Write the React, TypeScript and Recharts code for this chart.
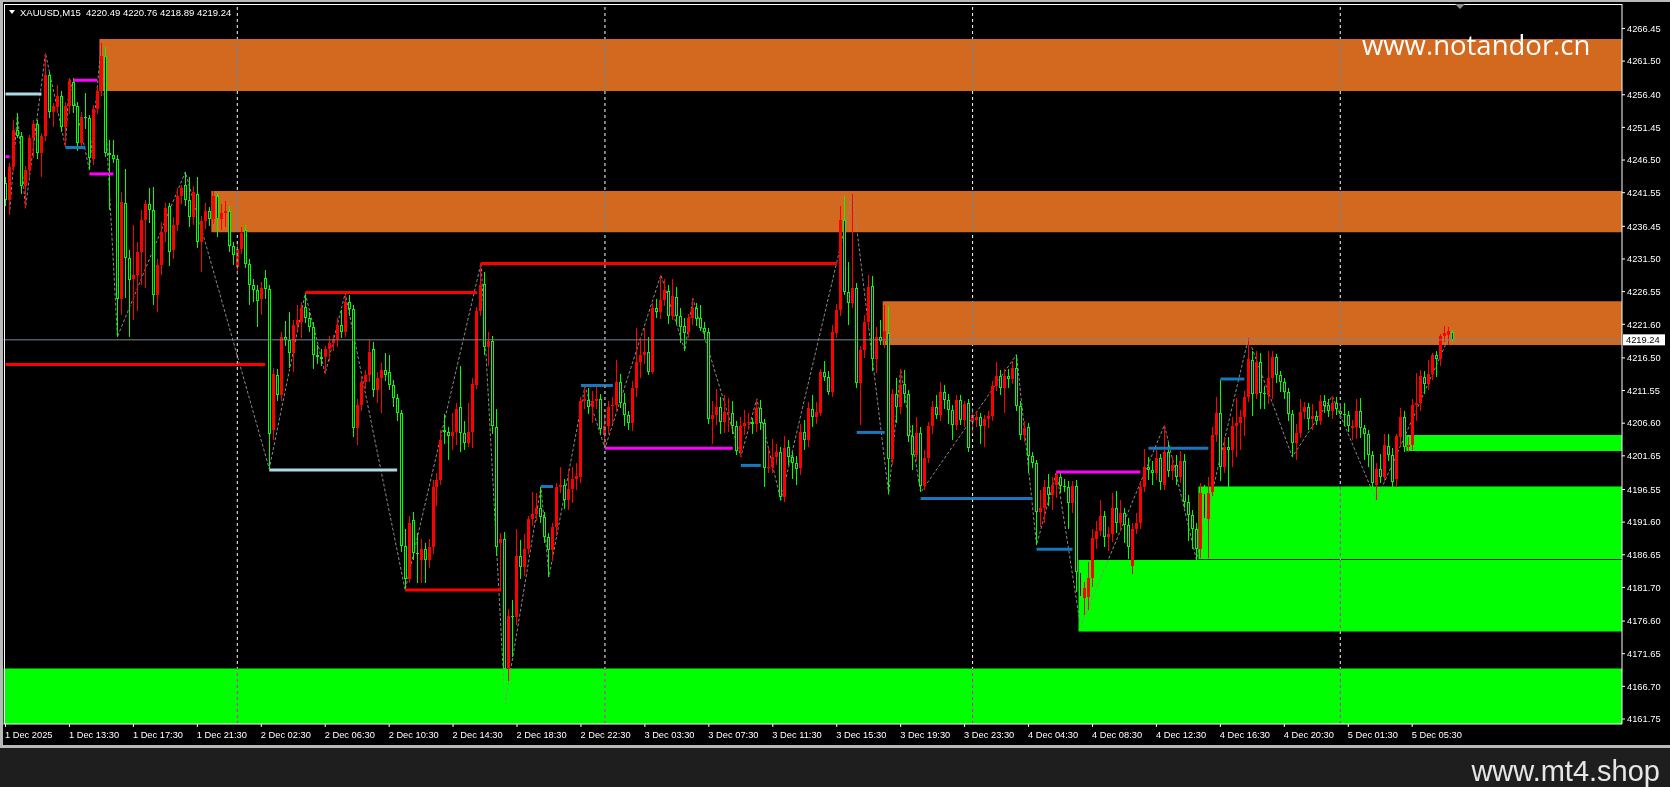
import {
  ComposedChart,
  Bar,
  Line,
  XAxis,
  YAxis,
  ReferenceArea,
  ReferenceLine,
} from 'recharts'

// candles as [open, high, low, close], one per M15 bar
const day1Candles = [
  [4243.0, 4244.0, 4239.5, 4240.4], [4240.4, 4246.0, 4238.2, 4245.5], [4245.5, 4252.5, 4244.8, 4251.0],
  [4251.0, 4253.6, 4249.8, 4250.2], [4250.2, 4250.8, 4241.4, 4242.5], [4242.5, 4245.6, 4239.2, 4245.0],
  [4245.0, 4250.3, 4244.0, 4249.8], [4249.8, 4252.6, 4246.8, 4252.0], [4252.0, 4252.5, 4246.6, 4247.5],
  [4247.5, 4250.6, 4244.0, 4250.1], [4250.1, 4262.7, 4249.4, 4259.4], [4259.4, 4259.9, 4252.8, 4253.8],
  [4253.8, 4255.2, 4251.5, 4254.7], [4254.6, 4257.9, 4253.7, 4256.2], [4256.2, 4256.9, 4250.7, 4251.5],
  [4251.5, 4255.3, 4248.5, 4254.7], [4254.7, 4259.0, 4253.5, 4258.5], [4258.4, 4258.9, 4253.6, 4254.7],
  [4254.7, 4255.3, 4247.8, 4249.1], [4249.1, 4253.8, 4248.2, 4253.1], [4253.1, 4256.6, 4251.2, 4252.8],
  [4252.8, 4253.4, 4245.0, 4246.8], [4246.6, 4254.8, 4245.7, 4254.3], [4254.3, 4257.6, 4253.5, 4256.9],
  [4256.9, 4264.2, 4256.2, 4262.2], [4262.2, 4263.7, 4247.0, 4247.5], [4247.6, 4249.5, 4238.9, 4247.2],
  [4247.2, 4249.5, 4246.0, 4246.7], [4246.7, 4247.3, 4219.7, 4225.5], [4225.5, 4241.7, 4223.0, 4240.2],
  [4240.0, 4245.1, 4225.6, 4231.6], [4231.6, 4232.8, 4219.7, 4228.3], [4228.5, 4236.6, 4222.3, 4229.1],
  [4229.1, 4234.0, 4223.6, 4232.6], [4232.6, 4238.9, 4227.5, 4237.4], [4237.4, 4240.5, 4227.1, 4239.9],
  [4239.8, 4242.3, 4237.0, 4238.9], [4238.9, 4242.4, 4224.5, 4226.0], [4226.0, 4231.5, 4223.5, 4230.6],
  [4230.6, 4237.1, 4229.0, 4235.6], [4235.6, 4240.0, 4234.1, 4239.2], [4239.6, 4240.0, 4230.4, 4232.6],
  [4232.8, 4237.8, 4231.5, 4236.6], [4236.6, 4242.2, 4235.8, 4241.0], [4241.0, 4242.7, 4239.8, 4242.3],
  [4242.7, 4244.7, 4239.5, 4240.4], [4240.4, 4244.0, 4236.4, 4237.8], [4237.8, 4242.5, 4236.7, 4241.7],
  [4241.4, 4244.0, 4233.1, 4234.0], [4234.0, 4238.0, 4229.6, 4237.2], [4237.2, 4240.0, 4236.0, 4238.7],
  [4238.7, 4239.4, 4236.5, 4237.6], [4237.6, 4241.8, 4236.8, 4241.0], [4241.0, 4241.5, 4234.9, 4237.5],
  [4237.5, 4239.9, 4235.9, 4238.5], [4238.4, 4240.3, 4236.3, 4238.8], [4238.8, 4239.5, 4232.6, 4233.4],
  [4233.4, 4234.0, 4230.6, 4232.1],
]

const day2Candles = [
  [4230.3, 4233.8, 4229.0, 4233.0], [4233.0, 4236.4, 4232.2, 4235.5], [4235.9, 4236.6, 4230.2, 4230.8],
  [4230.8, 4231.5, 4224.5, 4227.5], [4227.5, 4228.4, 4225.0, 4226.8], [4226.8, 4227.6, 4221.2, 4225.2],
  [4225.4, 4228.0, 4223.0, 4227.1], [4228.6, 4229.8, 4225.5, 4226.9], [4226.9, 4227.5, 4199.7, 4205.0],
  [4205.5, 4215.0, 4204.0, 4214.1], [4213.9, 4214.8, 4210.0, 4210.9], [4210.9, 4220.5, 4210.0, 4219.7],
  [4219.6, 4222.1, 4218.3, 4219.2], [4219.2, 4223.4, 4215.0, 4217.2], [4217.2, 4222.3, 4214.4, 4221.5],
  [4221.5, 4224.5, 4220.8, 4222.3], [4222.0, 4225.0, 4219.5, 4224.0], [4224.2, 4226.3, 4221.8, 4222.6],
  [4222.6, 4223.5, 4220.4, 4221.2], [4221.2, 4221.9, 4214.8, 4216.9], [4216.9, 4218.5, 4215.6, 4216.7],
  [4216.7, 4217.9, 4215.2, 4216.4], [4216.6, 4218.3, 4214.1, 4217.9], [4217.9, 4219.8, 4216.0, 4218.7],
  [4218.7, 4220.0, 4217.5, 4219.3], [4219.3, 4222.6, 4218.2, 4221.5], [4221.5, 4223.8, 4219.5, 4220.5],
  [4220.5, 4226.3, 4219.6, 4225.0], [4225.0, 4226.0, 4222.8, 4223.9], [4223.9, 4224.5, 4204.5, 4205.8],
  [4205.8, 4210.2, 4203.3, 4209.4], [4209.4, 4213.8, 4208.5, 4212.9], [4212.9, 4214.6, 4211.8, 4213.9],
  [4213.9, 4219.2, 4212.8, 4217.4], [4217.8, 4218.9, 4210.6, 4211.6], [4211.6, 4214.4, 4209.6, 4213.4],
  [4213.4, 4215.8, 4208.1, 4214.6], [4214.6, 4217.2, 4213.0, 4213.9], [4214.4, 4216.9, 4211.6, 4212.4],
  [4212.4, 4213.2, 4209.0, 4210.4], [4210.4, 4211.0, 4207.0, 4208.1], [4208.1, 4208.6, 4187.0, 4188.0],
  [4188.0, 4190.5, 4181.3, 4183.0], [4183.0, 4192.5, 4182.4, 4191.5], [4191.9, 4193.2, 4185.9, 4186.9],
  [4186.9, 4189.9, 4182.3, 4186.8], [4185.8, 4189.0, 4182.3, 4187.6], [4187.6, 4188.5, 4182.3, 4185.8],
  [4185.8, 4189.0, 4184.6, 4187.8], [4187.9, 4198.0, 4186.8, 4196.9], [4196.9, 4199.0, 4194.0, 4198.0],
  [4198.0, 4205.5, 4197.2, 4204.1], [4205.5, 4208.0, 4203.5, 4205.2], [4205.3, 4206.0, 4201.0, 4204.6],
  [4204.6, 4208.1, 4202.5, 4205.3], [4205.3, 4209.7, 4203.3, 4208.7], [4209.0, 4215.2, 4202.3, 4205.1],
  [4205.1, 4207.0, 4202.6, 4203.6], [4203.6, 4209.6, 4203.0, 4205.2], [4205.2, 4213.5, 4202.8, 4212.6],
  [4212.4, 4224.2, 4211.8, 4223.6], [4223.6, 4230.9, 4222.8, 4227.5], [4227.7, 4229.6, 4217.0, 4218.2],
  [4218.2, 4220.5, 4215.2, 4219.1], [4219.0, 4219.8, 4205.0, 4206.1], [4206.0, 4208.7, 4186.5, 4187.9],
  [4188.4, 4190.0, 4181.2, 4189.1], [4189.1, 4190.1, 4164.0, 4169.4], [4169.4, 4178.5, 4167.5, 4177.4],
  [4177.4, 4179.8, 4171.2, 4177.2], [4177.2, 4190.5, 4176.0, 4186.4], [4186.4, 4188.9, 4183.0, 4184.8],
  [4184.8, 4189.8, 4183.5, 4187.5], [4187.5, 4192.5, 4186.8, 4192.0], [4192.0, 4196.2, 4191.0, 4192.9],
  [4192.9, 4196.0, 4191.8, 4193.8], [4193.7, 4197.0, 4191.5, 4192.4], [4192.4, 4193.2, 4188.5, 4189.4],
  [4189.4, 4190.0, 4183.3, 4187.4], [4187.3, 4191.5, 4185.7, 4190.8], [4190.8, 4197.6, 4189.5, 4196.9],
  [4197.0, 4199.9, 4196.0, 4197.3], [4197.3, 4198.2, 4193.6, 4195.0], [4195.0, 4199.7, 4193.5, 4196.6],
  [4196.6, 4200.0, 4194.5, 4198.1], [4198.1, 4200.5, 4196.5, 4198.6], [4198.4, 4210.5, 4197.6, 4209.9],
  [4209.9, 4212.2, 4208.8, 4210.2], [4210.1, 4212.0, 4208.0, 4209.1], [4209.1, 4211.5, 4206.6, 4210.0],
  [4210.0, 4212.1, 4208.8, 4210.2], [4210.2, 4211.0, 4205.0, 4205.7],
]

const day3Candles = [
  [4204.8, 4208.0, 4202.8, 4206.1], [4206.1, 4210.0, 4205.0, 4209.1], [4209.2, 4210.5, 4206.5, 4209.3],
  [4209.3, 4216.2, 4208.5, 4212.9], [4212.9, 4214.0, 4208.9, 4209.7], [4209.7, 4211.2, 4206.2, 4207.8],
  [4207.8, 4208.5, 4205.5, 4206.7], [4206.7, 4213.0, 4205.4, 4211.9], [4211.9, 4221.1, 4210.5, 4215.9],
  [4215.9, 4219.5, 4213.5, 4216.9], [4216.9, 4221.0, 4215.5, 4217.4], [4217.4, 4219.6, 4213.9, 4214.4],
  [4214.4, 4224.8, 4214.0, 4224.0], [4224.0, 4225.5, 4222.6, 4223.4], [4223.4, 4229.1, 4222.4, 4225.3],
  [4225.3, 4228.5, 4224.4, 4226.8], [4226.7, 4227.6, 4221.7, 4222.9], [4222.9, 4228.4, 4222.2, 4225.9],
  [4225.7, 4227.2, 4221.6, 4222.9], [4222.9, 4224.0, 4218.8, 4221.2], [4221.3, 4222.5, 4217.6, 4220.3],
  [4220.5, 4223.2, 4219.5, 4222.6], [4222.6, 4225.5, 4221.5, 4224.0], [4224.0, 4224.8, 4221.3, 4222.4],
  [4222.5, 4224.5, 4220.6, 4221.0], [4221.0, 4222.0, 4219.3, 4220.5], [4220.5, 4221.1, 4206.5, 4207.3],
  [4207.3, 4210.0, 4203.5, 4207.8], [4207.8, 4211.8, 4206.3, 4209.1], [4209.1, 4210.6, 4205.0, 4206.8],
  [4206.8, 4210.8, 4205.1, 4208.3], [4208.2, 4210.4, 4205.3, 4208.3], [4208.2, 4210.0, 4205.0, 4206.1],
  [4206.1, 4206.9, 4201.8, 4202.4], [4202.4, 4207.5, 4201.5, 4206.1], [4206.1, 4208.6, 4204.8, 4206.6],
  [4206.6, 4208.2, 4205.6, 4206.8], [4206.8, 4207.4, 4205.0, 4206.5], [4206.5, 4210.3, 4205.3, 4208.9],
  [4208.9, 4210.1, 4205.6, 4206.7], [4206.7, 4207.2, 4197.0, 4199.8], [4199.8, 4202.8, 4199.0, 4200.0],
  [4200.0, 4204.2, 4199.1, 4201.5], [4201.5, 4203.5, 4200.2, 4202.2], [4202.2, 4203.0, 4194.9, 4195.4],
  [4195.4, 4204.6, 4194.6, 4202.9], [4203.0, 4204.0, 4200.3, 4201.4], [4201.4, 4202.3, 4198.1, 4200.6],
  [4200.6, 4201.6, 4197.2, 4199.6], [4199.8, 4206.5, 4198.8, 4205.2], [4205.2, 4207.1, 4202.5, 4204.0],
  [4204.0, 4209.8, 4203.0, 4208.9], [4208.7, 4210.8, 4206.0, 4207.6], [4207.6, 4209.8, 4206.5, 4208.3],
  [4208.1, 4214.8, 4207.7, 4214.4], [4214.3, 4216.0, 4213.0, 4213.6], [4213.6, 4214.5, 4210.8, 4211.4],
  [4211.4, 4221.5, 4210.6, 4220.5], [4220.3, 4224.6, 4219.5, 4223.8], [4223.8, 4239.5, 4222.8, 4237.4],
  [4237.4, 4241.0, 4226.0, 4226.5], [4226.5, 4231.0, 4221.5, 4224.8], [4224.8, 4241.3, 4224.0, 4227.1],
  [4227.1, 4227.8, 4212.0, 4212.7], [4212.7, 4218.3, 4206.3, 4217.7], [4217.7, 4223.0, 4216.5, 4222.0],
  [4222.0, 4229.1, 4221.0, 4227.3], [4227.4, 4228.9, 4214.5, 4216.4], [4216.4, 4221.2, 4214.2, 4219.6],
  [4219.6, 4222.2, 4218.4, 4219.0], [4219.0, 4224.5, 4218.0, 4220.6], [4220.2, 4224.4, 4195.8, 4201.1],
  [4201.1, 4211.8, 4200.2, 4211.1], [4211.1, 4213.5, 4206.6, 4209.1], [4209.1, 4214.8, 4208.0, 4212.4],
  [4212.6, 4214.6, 4209.7, 4211.1], [4211.1, 4211.6, 4203.7, 4204.6], [4204.6, 4206.4, 4199.5, 4201.8],
  [4201.8, 4207.5, 4200.8, 4205.1], [4205.1, 4206.0, 4196.1, 4197.1], [4197.1, 4202.5, 4196.4, 4201.3],
  [4201.3, 4206.8, 4200.5, 4206.1], [4206.1, 4210.0, 4205.0, 4209.0], [4209.0, 4210.9, 4207.3, 4207.9],
  [4207.9, 4212.8, 4207.0, 4211.4], [4211.4, 4212.4, 4208.8, 4210.1], [4210.1, 4211.0, 4206.5, 4208.6],
  [4208.6, 4209.3, 4204.0, 4206.3], [4206.3, 4210.8, 4205.6, 4210.1], [4210.1, 4210.8, 4206.4, 4207.1],
  [4207.1, 4210.0, 4206.0, 4209.5], [4209.6, 4210.3, 4202.2, 4202.8],
]

const day4Candles = [
  [4206.8, 4208.9, 4205.0, 4207.8], [4207.1, 4208.4, 4206.0, 4207.6], [4207.6, 4208.2, 4203.5, 4206.1],
  [4206.1, 4207.9, 4203.0, 4207.3], [4207.3, 4208.5, 4205.9, 4207.7], [4207.7, 4213.0, 4206.9, 4212.2],
  [4212.2, 4215.9, 4211.5, 4213.7], [4213.7, 4214.6, 4210.9, 4211.9], [4211.9, 4214.8, 4208.1, 4213.8],
  [4213.8, 4214.8, 4212.0, 4213.3], [4213.3, 4216.0, 4212.5, 4215.0], [4214.9, 4217.0, 4208.5, 4209.2],
  [4209.2, 4210.0, 4204.0, 4204.8], [4204.8, 4207.0, 4203.8, 4205.8], [4206.0, 4206.6, 4199.0, 4201.6],
  [4201.6, 4202.3, 4199.8, 4200.5], [4200.6, 4201.0, 4188.1, 4193.2], [4193.2, 4196.5, 4190.8, 4193.7],
  [4193.7, 4198.0, 4191.5, 4197.0], [4197.0, 4198.9, 4194.0, 4195.7], [4195.7, 4198.5, 4193.4, 4197.2],
  [4197.2, 4199.3, 4195.3, 4198.8], [4198.4, 4199.2, 4196.0, 4197.1], [4197.1, 4198.2, 4196.2, 4197.0],
  [4197.0, 4197.8, 4190.5, 4194.5], [4194.5, 4197.8, 4193.0, 4197.1], [4197.1, 4198.0, 4181.0, 4184.1],
  [4184.1, 4185.0, 4175.8, 4180.3], [4180.1, 4182.5, 4177.5, 4181.6], [4180.3, 4185.5, 4178.2, 4183.1],
  [4183.1, 4190.5, 4181.7, 4189.2], [4189.1, 4191.8, 4187.5, 4190.3], [4190.3, 4195.0, 4189.5, 4192.5],
  [4192.5, 4193.3, 4187.9, 4189.4], [4189.4, 4190.8, 4187.2, 4189.8], [4189.8, 4196.0, 4188.6, 4193.8],
  [4193.8, 4196.3, 4190.0, 4191.4], [4191.4, 4195.0, 4190.4, 4193.0], [4193.0, 4193.8, 4188.5, 4191.2],
  [4191.2, 4192.2, 4186.0, 4187.9], [4185.0, 4191.4, 4183.8, 4190.6], [4190.6, 4193.0, 4189.8, 4191.4],
  [4191.4, 4197.8, 4190.6, 4197.0], [4197.0, 4202.7, 4196.2, 4200.0], [4200.0, 4201.5, 4198.0, 4199.5],
  [4199.5, 4200.8, 4197.2, 4199.0], [4199.0, 4202.5, 4198.0, 4201.3], [4201.3, 4202.0, 4196.5, 4197.7],
  [4197.2, 4206.3, 4196.5, 4202.3], [4202.3, 4203.6, 4198.4, 4199.3], [4199.3, 4201.5, 4198.0, 4200.3],
  [4200.3, 4201.8, 4197.2, 4198.5], [4198.5, 4202.4, 4197.5, 4200.8], [4200.8, 4202.0, 4193.8, 4194.6],
  [4194.6, 4195.7, 4188.8, 4192.7], [4192.7, 4193.5, 4187.6, 4190.5], [4190.5, 4191.5, 4185.9, 4187.5],
  [4187.6, 4197.6, 4186.2, 4196.0], [4196.0, 4197.2, 4189.4, 4192.0], [4192.0, 4198.5, 4186.2, 4196.0],
  [4196.2, 4206.0, 4195.5, 4204.8], [4204.8, 4210.6, 4203.8, 4208.1], [4208.1, 4213.2, 4197.8, 4200.0],
  [4200.0, 4204.5, 4199.0, 4203.0], [4203.0, 4204.5, 4192.0, 4202.5], [4202.5, 4207.5, 4200.0, 4206.1],
  [4206.1, 4210.4, 4201.5, 4206.7], [4206.7, 4208.6, 4202.5, 4207.6], [4207.6, 4211.5, 4204.6, 4210.6],
  [4210.6, 4219.5, 4209.8, 4216.3], [4216.2, 4217.5, 4207.7, 4211.0], [4211.0, 4217.5, 4210.2, 4215.9],
  [4215.9, 4217.2, 4208.8, 4211.2], [4211.2, 4212.2, 4208.8, 4211.1], [4210.9, 4217.5, 4209.5, 4213.5],
  [4213.5, 4217.6, 4210.2, 4216.6], [4216.6, 4217.1, 4212.7, 4213.9], [4213.9, 4214.5, 4211.3, 4212.9],
  [4212.9, 4213.5, 4210.2, 4211.4], [4211.4, 4211.9, 4206.9, 4208.0], [4208.0, 4208.6, 4201.5, 4203.6],
  [4203.6, 4206.5, 4201.0, 4205.1], [4205.1, 4210.3, 4204.4, 4208.3], [4208.3, 4209.8, 4207.3, 4209.1],
  [4209.0, 4209.7, 4205.5, 4207.3], [4207.3, 4209.5, 4205.6, 4207.7], [4207.7, 4208.5, 4206.3, 4207.0],
  [4207.0, 4210.8, 4206.4, 4210.0], [4210.0, 4210.9, 4208.1, 4209.2], [4209.3, 4210.3, 4207.6, 4208.5],
  [4208.5, 4210.7, 4207.3, 4209.6], [4209.6, 4210.6, 4207.8, 4208.7],
]

const day5Candles = [
  [4208.4, 4209.6, 4207.2, 4208.0], [4208.0, 4209.6, 4206.1, 4207.9], [4207.8, 4208.4, 4205.3, 4206.2],
  [4205.9, 4207.1, 4204.0, 4206.2], [4206.0, 4210.2, 4204.2, 4208.5], [4208.5, 4210.4, 4204.3, 4205.8],
  [4205.8, 4206.4, 4201.0, 4205.0], [4205.0, 4205.6, 4200.0, 4201.8], [4201.8, 4202.4, 4195.0, 4197.5],
  [4197.3, 4200.5, 4194.9, 4199.6], [4199.6, 4202.0, 4197.5, 4198.5], [4198.5, 4205.0, 4197.8, 4203.3],
  [4203.1, 4205.0, 4200.8, 4201.8], [4201.8, 4202.8, 4196.8, 4197.7], [4198.1, 4204.9, 4196.9, 4204.6],
  [4204.5, 4208.9, 4203.2, 4207.6], [4207.6, 4208.5, 4202.3, 4203.0], [4203.0, 4204.5, 4202.3, 4203.3],
  [4203.3, 4210.3, 4202.5, 4209.3], [4209.3, 4214.2, 4207.0, 4209.7], [4209.6, 4214.6, 4208.5, 4213.7],
  [4213.6, 4214.5, 4211.0, 4212.5], [4212.5, 4216.2, 4211.6, 4214.1], [4214.1, 4217.3, 4213.2, 4216.9],
  [4216.9, 4217.6, 4213.6, 4216.4], [4216.4, 4220.1, 4215.3, 4219.8], [4219.8, 4221.3, 4218.9, 4220.3],
  [4220.0, 4221.2, 4218.4, 4220.6], [4220.49, 4220.76, 4218.89, 4219.24],
]

// zigzag pivots [bar, price]
const zigzagPivots = [
  [1, 4238.2], [3, 4253.6], [5, 4239.2], [10, 4262.7], [15, 4248.5], [16, 4259.0], [21, 4245.0],
  [24, 4264.2], [28, 4219.7], [45, 4244.7], [66, 4199.7], [75, 4226.3], [80, 4214.1], [85, 4226.3],
  [100, 4181.3], [119, 4230.9], [125, 4164.0], [134, 4197.0], [136, 4183.3], [145, 4212.2],
  [150, 4202.8], [164, 4229.1], [170, 4217.6], [172, 4225.5], [184, 4201.5], [188, 4210.3],
  [194, 4194.9], [212, 4241.3], [221, 4195.8], [224, 4214.8], [229, 4196.1], [253, 4217.0],
  [258, 4188.1], [263, 4199.3], [269, 4175.8], [290, 4206.3], [298, 4185.9], [311, 4219.5],
  [322, 4201.5], [332, 4210.7], [343, 4194.9], [362, 4220.76],
]

// zones: [first bar, top, bottom]
const supplyZones = [
  [24, 4264.86, 4256.97],
  [52, 4241.8, 4235.55],
  [220, 4225.1, 4218.45],
]
const demandZones = [
  [0, 4169.4, 4160.99],
  [269, 4185.85, 4175.0],
  [299, 4197.0, 4186.0],
  [351, 4204.8, 4202.4],
]

// level segments: [from bar, to bar, price]
const redLevels = [[0, 65, 4215.5], [75, 118, 4226.4], [119, 208, 4230.8], [100, 124, 4181.3]]
const magentaLevels = [[0, 1, 4247.0], [17, 23, 4258.6], [21, 27, 4244.4], [150, 182, 4202.8], [263, 284, 4199.2]]
const lightBlueLevels = [[0, 9, 4256.5], [66, 98, 4199.5]]
const blueLevels = [
  [15, 20, 4248.4], [134, 137, 4197.0], [144, 152, 4212.3], [184, 189, 4200.2], [213, 220, 4205.2],
  [229, 257, 4195.2], [258, 267, 4187.5], [286, 301, 4202.8], [304, 310, 4213.3],
]

const daySeparators = [58, 150, 242, 334]

const timeTickBars = [0, 16, 32, 48, 64, 80, 96, 112, 128, 144, 160, 176, 192, 208, 224, 240, 256, 272, 288, 304, 320, 336, 352]
const timeLabels = [
  '1 Dec 2025', '1 Dec 13:30', '1 Dec 17:30', '1 Dec 21:30', '2 Dec 02:30', '2 Dec 06:30',
  '2 Dec 10:30', '2 Dec 14:30', '2 Dec 18:30', '2 Dec 22:30', '3 Dec 03:30', '3 Dec 07:30',
  '3 Dec 11:30', '3 Dec 15:30', '3 Dec 19:30', '3 Dec 23:30', '4 Dec 04:30', '4 Dec 08:30',
  '4 Dec 12:30', '4 Dec 16:30', '4 Dec 20:30', '5 Dec 01:30', '5 Dec 05:30',
]
const priceTicks = [
  4266.45, 4261.5, 4256.4, 4251.45, 4246.5, 4241.55, 4236.45, 4231.5, 4226.55, 4221.6, 4216.5,
  4211.55, 4206.6, 4201.65, 4196.55, 4191.6, 4186.65, 4181.7, 4176.6, 4171.65, 4166.7, 4161.75,
]

const BID = 4219.24
const SLOTS = 405
const FONT = '"Liberation Sans", Arial, sans-serif'

const candles = [...day1Candles, ...day2Candles, ...day3Candles, ...day4Candles, ...day5Candles]
const zzMap = new Map(zigzagPivots.map(([b, p]) => [b, p]))

const data = Array.from({ length: SLOTS }, (_, i) => {
  const c = candles[i]
  if (!c) return { i }
  const [o, h0, l0, cl] = c
  const h = Math.max(h0, o, cl)
  const l = Math.min(l0, o, cl)
  return { i, o, h, l, c: cl, range: [l, h], zz: zzMap.get(i) ?? null }
})

function Candle(props: any) {
  const { x, y, width, height, payload } = props
  if (!payload || payload.o == null || !isFinite(y)) return <g />
  const { o, h, l, c } = payload
  const cx = Math.floor(x + width / 2) + 0.5
  const k = height / (h - l || 1)
  const yOf = (v: number) => y + (h - v) * k
  const top = yOf(Math.max(o, c))
  const bot = yOf(Math.min(o, c))
  if (c >= o) {
    return (
      <g shapeRendering="crispEdges">
        <line x1={cx} x2={cx} y1={yOf(h)} y2={yOf(l)} stroke="#ff0000" />
        <rect x={cx - 1.5} y={top} width={3} height={Math.max(bot - top, 1)} fill="#ff0000" />
      </g>
    )
  }
  return (
    <g shapeRendering="crispEdges">
      <line x1={cx} x2={cx} y1={yOf(h)} y2={yOf(l)} stroke="#00ff00" />
      {bot - top < 2.5 ? (
        <rect x={cx - 1.5} y={top} width={3} height={Math.max(bot - top, 1)} fill="#00ff00" />
      ) : (
        <rect x={cx - 1} y={top + 0.5} width={2} height={bot - top - 1} fill="#000" stroke="#00ff00" />
      )}
    </g>
  )
}

function PriceTick({ x, y, payload }: any) {
  return (
    <text x={x} y={y + 3.3} fill="#fff" fontSize={9.3} fontFamily={FONT}>
      {Number(payload.value).toFixed(2)}
    </text>
  )
}

function TimeTick({ x, y, payload }: any) {
  const label = timeLabels[timeTickBars.indexOf(payload.value)]
  return (
    <text x={x - 0.5} y={y + 9} fill="#fff" fontSize={9.3} fontFamily={FONT}>
      {label}
    </text>
  )
}

function BidLabel({ viewBox }: any) {
  if (!viewBox) return null
  const x = viewBox.x + viewBox.width + 1
  const y = viewBox.y
  return (
    <g>
      <rect x={x} y={y - 5.5} width={42} height={11} fill="#fff" />
      <text x={x + 3} y={y + 3.5} fill="#000" fontSize={9.3} fontFamily={FONT}>
        {BID.toFixed(2)}
      </text>
    </g>
  )
}

export default function App() {
  return (
    <div style={{ position: 'relative', width: 1670, height: 787, background: '#1e1e1e', overflow: 'hidden' }}>
      <style>{`body{margin:0;background:#1e1e1e}.sep line{mix-blend-mode:difference}`}</style>
      <div style={{ position: 'absolute', left: 0, top: 0, width: 1670, height: 748, background: '#b9b9b9' }} />
      <div style={{ position: 'absolute', left: 3, top: 2, width: 1667, height: 743, background: '#000' }} />
      <div style={{ position: 'absolute', left: 0, top: 0 }}>
        <ComposedChart width={1670} height={748} data={data} margin={{ top: 4, right: 0, bottom: 0, left: 3.5 }}>
          <XAxis
            dataKey="i"
            type="category"
            ticks={timeTickBars}
            interval={0}
            height={24}
            tickSize={3}
            tick={TimeTick}
            axisLine={{ stroke: '#fff' }}
            tickLine={{ stroke: '#fff' }}
          />
          <YAxis
            orientation="right"
            type="number"
            domain={[4160.99, 4270.16]}
            allowDataOverflow
            ticks={priceTicks}
            interval={0}
            width={48}
            tickSize={3}
            tick={PriceTick}
            axisLine={{ stroke: '#fff' }}
            tickLine={{ stroke: '#fff' }}
          />
          {supplyZones.map(([from, top, bottom], k) => (
            <ReferenceArea key={'s' + k} x1={from} x2={SLOTS - 1} y1={bottom} y2={top} fill="#d2691e" fillOpacity={1} stroke="none" ifOverflow="visible" zIndex={50} />
          ))}
          {demandZones.map(([from, top, bottom], k) => (
            <ReferenceArea key={'d' + k} x1={from} x2={SLOTS - 1} y1={bottom} y2={top} fill="#00ff00" fillOpacity={1} stroke="none" ifOverflow="visible" zIndex={50} />
          ))}
          <Line
            dataKey="zz"
            connectNulls
            dot={false}
            stroke="#8a8a8a"
            strokeWidth={1}
            strokeDasharray="3 2"
            isAnimationActive={false}
            zIndex={250}
          />
          <Bar dataKey="range" shape={Candle} isAnimationActive={false} zIndex={300} />
          <ReferenceLine y={BID} stroke="#778899" strokeWidth={1} zIndex={340} label={BidLabel} />
          {redLevels.map(([a, b, p], k) => (
            <ReferenceLine key={'r' + k} segment={[{ x: a, y: p }, { x: b, y: p }]} stroke="#ff0000" strokeWidth={3} ifOverflow="visible" zIndex={350} />
          ))}
          {magentaLevels.map(([a, b, p], k) => (
            <ReferenceLine key={'m' + k} segment={[{ x: a, y: p }, { x: b, y: p }]} stroke="#ff00ff" strokeWidth={3} ifOverflow="visible" zIndex={350} />
          ))}
          {lightBlueLevels.map(([a, b, p], k) => (
            <ReferenceLine key={'l' + k} segment={[{ x: a, y: p }, { x: b, y: p }]} stroke="#add8e6" strokeWidth={3} ifOverflow="visible" zIndex={350} />
          ))}
          {blueLevels.map(([a, b, p], k) => (
            <ReferenceLine key={'b' + k} segment={[{ x: a, y: p }, { x: b, y: p }]} stroke="#1877bd" strokeWidth={3} ifOverflow="visible" zIndex={350} />
          ))}
          {daySeparators.map((b) => (
            <ReferenceLine key={'v' + b} x={b} className="sep" stroke="#ffffff" strokeDasharray="3 3" zIndex={360} />
          ))}
        </ComposedChart>
      </div>
      <svg width={1670} height={787} style={{ position: 'absolute', left: 0, top: 0, pointerEvents: 'none' }}>
        <line x1={4.5} x2={4.5} y1={4} y2={724} stroke="#fff" />
        <line x1={4} x2={1622} y1={4.5} y2={4.5} stroke="#fff" />
        <polygon points="9,10 15,10 12,14" fill="#fff" />
        <text x={20} y={16} fill="#fff" fontSize={9.5} fontFamily={FONT} style={{ whiteSpace: 'pre' }}>
          {'XAUUSD,M15  4220.49 4220.76 4218.89 4219.24'}
        </text>
        <polygon points="1455,4 1465,4 1460,9" fill="#8c8c8c" />
        <text x={1362} y={55} fill="#fff" fontSize={27.5} fontFamily='"Open Sans", sans-serif'>
          www.notandor.cn
        </text>
        <text x={1660} y={781} textAnchor="end" fill="#e6e6e6" fontSize={29} fontFamily={FONT}>
          www.mt4.shop
        </text>
      </svg>
    </div>
  )
}
